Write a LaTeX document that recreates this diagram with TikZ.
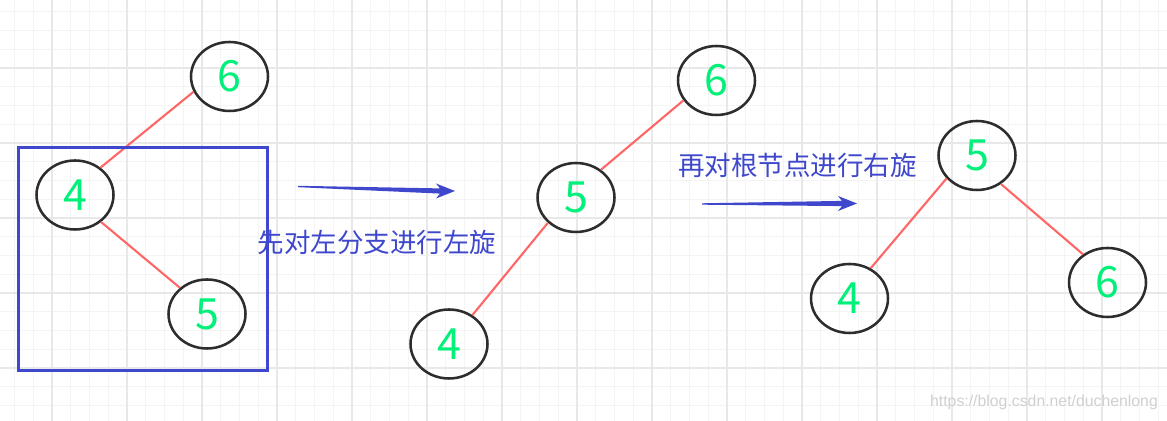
\documentclass[tikz,border=0pt]{standalone}
\usepackage{fontspec}
\newfontfamily\cjk{Noto Sans CJK SC}
\newfontfamily\wmfont{Liberation Sans}
\usetikzlibrary{arrows.meta, shapes.geometric, calc}
\definecolor{rotblue}{RGB}{63,72,204}
\definecolor{edgered}{RGB}{255,102,102}
\definecolor{digitgreen}{RGB}{0,240,122}
\definecolor{ringgray}{RGB}{45,45,45}
\definecolor{gridminor}{RGB}{244,244,244}
\definecolor{gridmajor}{RGB}{232,232,232}
\definecolor{markgray}{RGB}{208,208,208}
\tikzset{
  treenode/.style={ellipse, draw=ringgray, line width=1.45pt, minimum width=1.54cm,
    minimum height=1.38cm, inner sep=0pt, text=digitgreen,
    font=\cjk\fontsize{24.5}{26}\selectfont},
  treeedge/.style={edgered, line width=1.2pt},
  framebox/.style={rotblue, line width=1.9pt},
  stepnote/.style={text=rotblue, inner sep=0pt, font=\cjk\fontsize{15.1}{17}\selectfont},
  gridthin/.style={gridminor, line width=0.55pt},
  gridthick/.style={gridmajor, line width=0.6pt}
}

\begin{document}
\begin{tikzpicture}[x=0.02cm, y=-0.02cm]
\useasboundingbox (0,0) rectangle (1167,421);
\fill[white] (0,0) rectangle (1167,421);
\foreach \k in {-2,...,59} \draw[gridthin] ({52+18.75*\k},0) -- ({52+18.75*\k},421);
\foreach \k in {-3,...,18} \draw[gridthin] (0,{68+18.75*\k}) -- (1167,{68+18.75*\k});
\foreach \k in {0,...,15} \draw[gridthick] ({52+75*\k},0) -- ({52+75*\k},421);
\foreach \k in {0,...,4} \draw[gridthick] (0,{68+75*\k}) -- (1167,{68+75*\k});

\node[treenode] (l6) at (229.5,76.5) {6};
\node[treenode] (l4) at (75,195) {4};
\node[treenode] (l5) at (207,314) {5};
\draw[treeedge] (l6.203) -- (l4.47);
\draw[treeedge] (l4.314) -- (l5.136);
\draw[framebox] (18.5,147.5) rectangle (267.5,370.5);

\node[treenode] (m6) at (716.5,80.5) {6};
\node[treenode] (m5) at (576,197.5) {5};
\node[treenode] (m4) at (449,344) {4};
\draw[treeedge] (m5.48) -- (m6.211);
\draw[treeedge] (m5.222) -- (m4.51);

\node[treenode] (r5) at (977,155.5) {5};
\node[treenode] (r4) at (849.5,298.5) {4};
\node[treenode] (r6) at (1107.5,282.5) {6};
\draw[treeedge] (r5.217) -- (r4.55);
\draw[treeedge] (r5.310) -- (r6.131);

\coordinate (a1s) at (298,186.5);
\coordinate (a1e) at (455,191);
\fill[rotblue] ($(a1s)+(0,-0.7)$) -- ($(a1e)+(-15,-2.6)$) -- ($(a1e)+(-19,-7.5)$) -- (a1e)
  -- ($(a1e)+(-19,7.5)$) -- ($(a1e)+(-15,2.6)$) -- ($(a1s)+(0,0.7)$) -- cycle;
\coordinate (a2s) at (702,204);
\coordinate (a2e) at (857,203.5);
\fill[rotblue] ($(a2s)+(0,-0.7)$) -- ($(a2e)+(-15,-2.6)$) -- ($(a2e)+(-19,-7.5)$) -- (a2e)
  -- ($(a2e)+(-19,7.5)$) -- ($(a2e)+(-15,2.6)$) -- ($(a2s)+(0,0.7)$) -- cycle;

\node[stepnote] (t1) at (377,242) {先对左分支进行左旋};
\node[stepnote] (t2) at (797.5,165) {再对根节点进行右旋};
\node[text=markgray, inner sep=0pt, font=\wmfont\fontsize{9}{10}\selectfont] (wm) at (1044,402) {https://blog.csdn.net/duchenlong};
\end{tikzpicture}
\end{document}
